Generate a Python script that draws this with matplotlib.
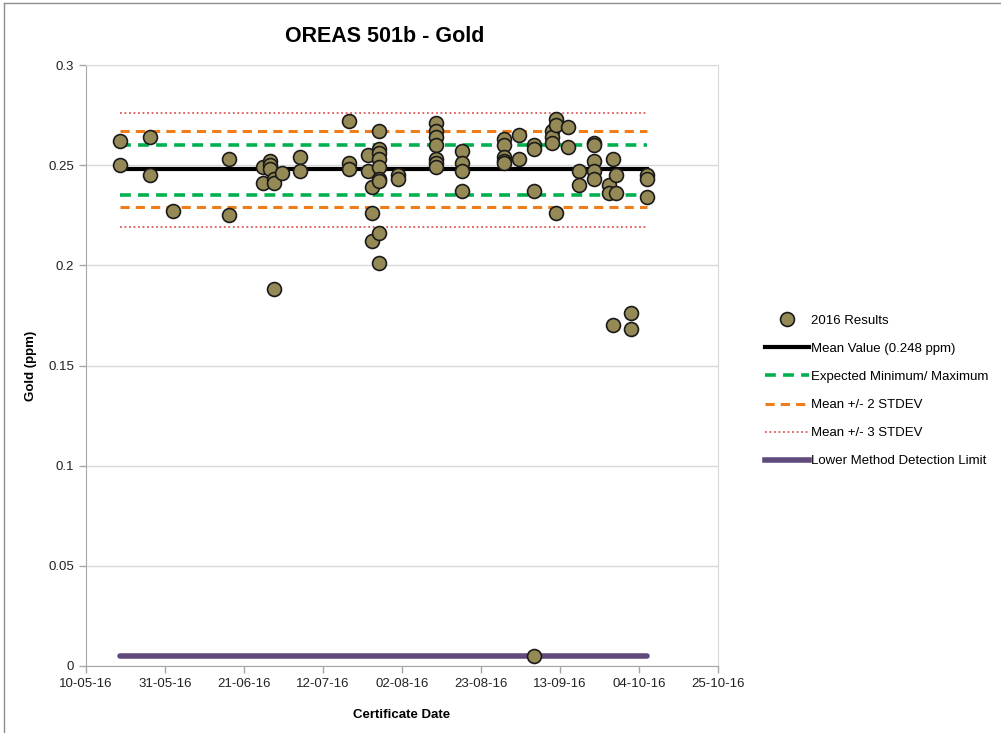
import pandas as pd
import matplotlib
matplotlib.use('Agg')
import matplotlib.pyplot as plt
import matplotlib.dates as mdates
from matplotlib.lines import Line2D

plt.rcParams['font.family'] = ['Liberation Sans', 'DejaVu Sans']

# Data ###################################################
cert_dates = ['2016-05-19', '2016-05-19', '2016-05-27', '2016-05-27', '2016-06-02',
              '2016-06-17', '2016-06-17', '2016-06-26', '2016-06-26',
              '2016-06-28', '2016-06-28', '2016-06-28',
              '2016-06-29', '2016-06-29', '2016-06-29', '2016-07-01',
              '2016-07-06', '2016-07-06',
              '2016-07-19', '2016-07-19', '2016-07-19',
              '2016-07-24', '2016-07-24',
              '2016-07-25', '2016-07-25', '2016-07-25',
              '2016-07-27', '2016-07-27', '2016-07-27', '2016-07-27', '2016-07-27',
              '2016-07-27', '2016-07-27', '2016-07-27', '2016-07-27',
              '2016-08-01', '2016-08-01',
              '2016-08-11', '2016-08-11', '2016-08-11', '2016-08-11', '2016-08-11',
              '2016-08-11', '2016-08-11',
              '2016-08-18', '2016-08-18', '2016-08-18', '2016-08-18',
              '2016-08-29', '2016-08-29', '2016-08-29', '2016-08-29', '2016-08-29',
              '2016-09-02', '2016-09-02',
              '2016-09-06', '2016-09-06', '2016-09-06', '2016-09-06',
              '2016-09-11', '2016-09-11', '2016-09-11',
              '2016-09-12', '2016-09-12', '2016-09-12',
              '2016-09-15', '2016-09-15',
              '2016-09-18', '2016-09-18',
              '2016-09-22', '2016-09-22', '2016-09-22', '2016-09-22', '2016-09-22',
              '2016-09-26', '2016-09-26',
              '2016-09-27', '2016-09-27',
              '2016-09-28', '2016-09-28',
              '2016-10-02', '2016-10-02',
              '2016-10-06', '2016-10-06', '2016-10-06']

gold_ppm = [0.262, 0.250, 0.264, 0.245, 0.227,
            0.253, 0.225, 0.249, 0.241,
            0.252, 0.250, 0.248,
            0.243, 0.241, 0.188, 0.246,
            0.254, 0.247,
            0.272, 0.251, 0.248,
            0.255, 0.247,
            0.239, 0.226, 0.212,
            0.267, 0.258, 0.256, 0.253, 0.249,
            0.243, 0.242, 0.216, 0.201,
            0.245, 0.243,
            0.271, 0.267, 0.264, 0.260, 0.253,
            0.251, 0.249,
            0.257, 0.251, 0.247, 0.237,
            0.263, 0.260, 0.254, 0.252, 0.251,
            0.265, 0.253,
            0.260, 0.258, 0.237, 0.005,
            0.267, 0.264, 0.261,
            0.273, 0.270, 0.226,
            0.269, 0.259,
            0.247, 0.240,
            0.261, 0.260, 0.252, 0.247, 0.243,
            0.240, 0.236,
            0.253, 0.170,
            0.245, 0.236,
            0.176, 0.168,
            0.245, 0.243, 0.234]

mean_value = 0.248
expected_min_max = [0.235, 0.260]
mean_2sd = [0.229, 0.267]
mean_3sd = [0.219, 0.276]
detection_limit = 0.005

y_ticks = [0, 0.05, 0.1, 0.15, 0.2, 0.25, 0.3]
y_tick_labels = ['0', '0.05', '0.1', '0.15', '0.2', '0.25', '0.3']

dates = pd.to_datetime(cert_dates)
span = [dates.min(), dates.max()]

# Plot ###################################################
fig = plt.figure(figsize=(10.01, 7.33), dpi=100)
ax = fig.add_axes([86/1001, 67/733, (718-86)/1001, (666-65)/733])

ax.plot(span, [detection_limit]*2, color='#604A7B', linewidth=4, solid_capstyle='round', zorder=2)
for v in mean_3sd:
    ax.plot(span, [v, v], color='#E0585B', linestyle=(0, (1, 1.5)), linewidth=1.3, zorder=2)
for v in mean_2sd:
    ax.plot(span, [v, v], color='#F07D1A', linestyle=(0, (3, 2)), linewidth=2.2, zorder=2)
for v in expected_min_max:
    ax.plot(span, [v, v], color='#00B050', linestyle=(0, (3, 2)), linewidth=2.6, zorder=2)
ax.plot(span, [mean_value]*2, color='black', linewidth=3, zorder=2)

ax.plot(dates, gold_ppm, linestyle='none', marker='o', markersize=10,
        markerfacecolor='#958A56', markeredgecolor='#1a1a1a', markeredgewidth=1.2, zorder=3)

ax.set_xlim(pd.Timestamp('2016-05-10'), pd.Timestamp('2016-10-25'))
ax.set_ylim(0, 0.3)
ax.set_xticks(pd.date_range('2016-05-10', '2016-10-25', freq='21D'))
ax.xaxis.set_major_formatter(mdates.DateFormatter('%d-%m-%y'))
ax.set_yticks(y_ticks)
ax.set_yticklabels(y_tick_labels)
ax.yaxis.grid(True, color='#D9D9D9', linewidth=1)
ax.set_axisbelow(True)

for s in ['left', 'bottom']:
    ax.spines[s].set_color('#A6A6A6')
for s in ['top', 'right']:
    ax.spines[s].set_color('#D9D9D9')
ax.tick_params(axis='both', colors='#A6A6A6', labelcolor='#222222', labelsize=9.5, length=5, width=1)

ax.set_xlabel('Certificate Date', fontsize=9.5, fontweight='bold', labelpad=14)
ax.set_ylabel('Gold (ppm)', fontsize=9.5, fontweight='bold', labelpad=8)

fig.text(385/1001, 1 - 36/733, 'OREAS 501b - Gold', fontsize=15.5, fontweight='bold',
         ha='center', va='center')

# legend
handles = [
    Line2D([], [], linestyle='none', marker='o', markersize=10, markerfacecolor='#958A56',
           markeredgecolor='#1a1a1a', markeredgewidth=1.2),
    Line2D([], [], color='black', linewidth=3),
    Line2D([], [], color='#00B050', linestyle=(0, (3, 2)), linewidth=2.6),
    Line2D([], [], color='#F07D1A', linestyle=(0, (3, 2)), linewidth=2.2),
    Line2D([], [], color='#E0585B', linestyle=(0, (1, 1.5)), linewidth=1.3),
    Line2D([], [], color='#604A7B', linewidth=4),
]
labels = ['2016 Results', 'Mean Value (0.248 ppm)', 'Expected Minimum/ Maximum',
          'Mean +/- 2 STDEV', 'Mean +/- 3 STDEV', 'Lower Method Detection Limit']
fig.legend(handles, labels, loc='center left', bbox_to_anchor=(765/1001, 1 - 391/733),
           frameon=False, fontsize=9.5, handlelength=3.3, handletextpad=0.2,
           labelspacing=1.2, borderpad=0, borderaxespad=0)

# outer chart frame (left and top edges)
fig.add_artist(Line2D([4/1001, 4/1001], [0, 1 - 3/733], color='#8C8C8C', linewidth=1))
fig.add_artist(Line2D([4/1001, 1], [1 - 3/733, 1 - 3/733], color='#8C8C8C', linewidth=1))

fig.savefig('out.png', dpi=100)
